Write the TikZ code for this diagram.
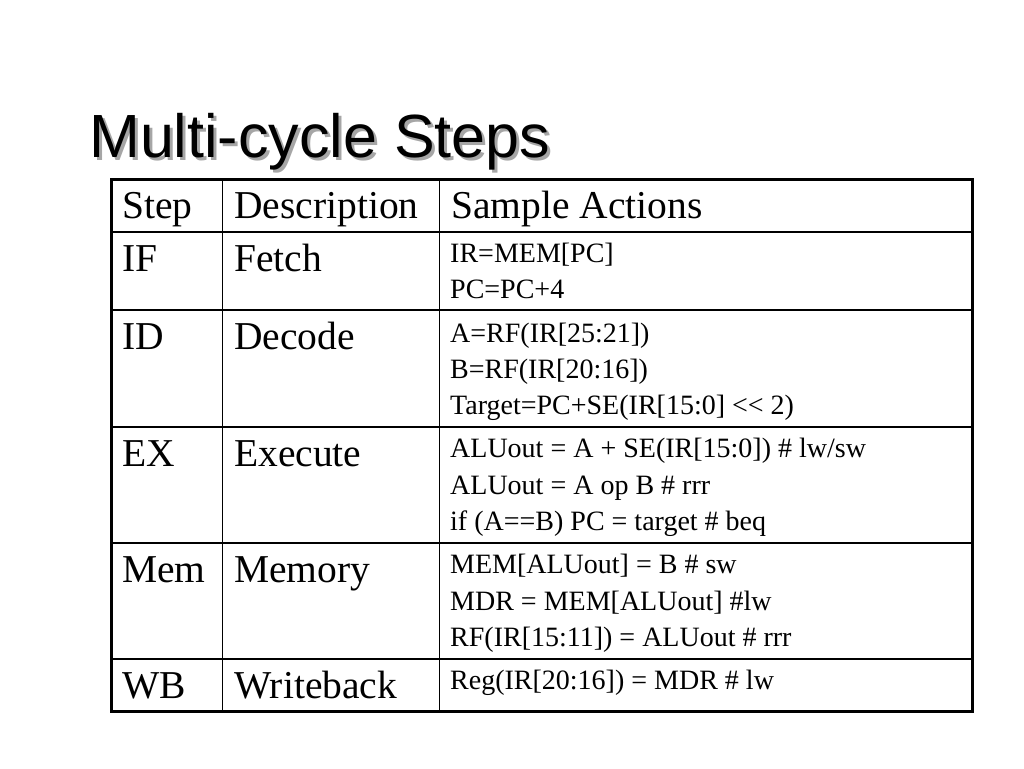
\documentclass[tikz,border=0pt]{standalone}
\usepackage{fontspec}
\setmainfont{Liberation Serif}
\newfontfamily\titlefont{Liberation Sans}
\begin{document}
\begin{tikzpicture}[x=1pt,y=-1pt,
  big/.style={anchor=base west,inner sep=0pt,font=\fontsize{39.5}{48}\selectfont},
  small/.style={anchor=base west,inner sep=0pt,font=\fontsize{28}{34}\selectfont},
  titlestyle/.style={anchor=base west,inner sep=0pt,font=\titlefont\fontsize{61}{70}\selectfont},
  inner line/.style={line width=1.5pt},
  outer line/.style={line width=3pt}]
\useasboundingbox[fill=white] (0,0) rectangle (1024,768);
% title
\node[titlestyle,text=black!35] (titleshadow) at (92,160) {Multi-cycle Steps};
\node[titlestyle] (title) at (89,157) {Multi-cycle Steps};
% grid
\foreach \yy in {232,310,427,543,659} \draw[inner line] (111,\yy) -- (972,\yy);
\foreach \xx in {222.5,439.5} \draw[inner line] (\xx,179) -- (\xx,711);
\draw[outer line] (111,179) rectangle (972,711);
% header
\node[big] (h1) at (122,218) {Step};
\node[big] (h2) at (234,218) {Description};
\node[big] (h3) at (451,218) {Sample Actions};
% IF
\node[big] (s1) at (122,271) {IF};
\node[big] (d1) at (234,271) {Fetch};
\node[small] (a1a) at (450,262) {IR=MEM[PC]};
\node[small] (a1b) at (450,298) {PC=PC+4};
% ID
\node[big] (s2) at (122,349) {ID};
\node[big] (d2) at (234,349) {Decode};
\node[small] (a2a) at (450,342) {A=RF(IR[25:21])};
\node[small] (a2b) at (450,378) {B=RF(IR[20:16])};
\node[small] (a2c) at (450,414) {Target=PC+SE(IR[15:0] {<}{<} 2)};
% EX
\node[big] (s3) at (122,466) {EX};
\node[big] (d3) at (234,466) {Execute};
\node[small] (a3a) at (450,457) {ALUout = A + SE(IR[15:0]) \# lw/sw};
\node[small] (a3b) at (450,494) {ALUout = A op B \# rrr};
\node[small] (a3c) at (450,530) {if (A==B) PC = target \# beq};
% Mem
\node[big] (s4) at (122,582) {Mem};
\node[big] (d4) at (234,582) {Memory};
\node[small] (a4a) at (450,573) {MEM[ALUout] = B \# sw};
\node[small] (a4b) at (450,610) {MDR = MEM[ALUout] \#lw};
\node[small] (a4c) at (450,646) {RF(IR[15:11]) = ALUout \# rrr};
% WB
\node[big] (s5) at (122,698) {WB};
\node[big] (d5) at (234,698) {Writeback};
\node[small] (a5a) at (450,689) {Reg(IR[20:16]) = MDR \# lw};
\end{tikzpicture}
\end{document}
